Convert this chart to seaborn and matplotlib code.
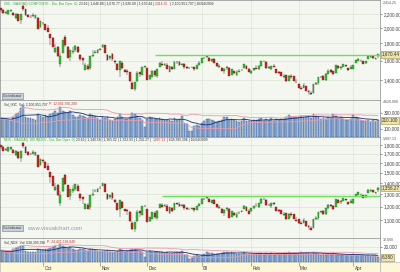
import numpy as np
import pandas as pd
import matplotlib
matplotlib.use("Agg")
import matplotlib.pyplot as plt
import matplotlib.patches as mpatches
from matplotlib.ticker import FixedLocator, NullLocator, FuncFormatter
import seaborn as sns

sns.set_style("white")
plt.rcParams['font.family'] = ['Liberation Sans', 'DejaVu Sans']

# ---------------- data ----------------
month_labels = ["Oct", "Nov", "Dec", "09", "Feb", "Mar", "Apr"]
month_start = [17, 40, 59, 81, 101, 120, 142]

ixic_open = [2290,2266,2220,2205,2240,2215,2140,2195,2110,2330,2270,2185,2160,2165,2140,2140,2010,
    2075,2050,2000,1920,1870,1700,1760,1560,1690,1880,1760,1640,1700,1720,1755,1665,1625,1500,1540,1525,1645,1690,1685,
    1725,1750,1775,1665,1625,1670,1600,1565,1500,1575,1500,1490,1475,1375,1320,1390,1480,1450,1530,
    1520,1410,1430,1485,1440,1535,1565,1555,1555,1480,1535,1515,1580,1580,1555,1565,1535,1520,1528,1530,1515,1550,
    1578,1625,1635,1630,1590,1620,1570,1535,1525,1485,1520,1525,1450,1485,1445,1480,1495,1525,1545,1505,
    1465,1495,1520,1505,1545,1590,1580,1525,1515,1545,1505,1475,1475,1425,1445,1395,1435,1435,1385,
    1360,1330,1330,1340,1300,1285,1285,1360,1370,1425,1435,1405,1460,1495,1485,1470,1545,1525,1535,1550,1520,1515,
    1515,1575,1600,1605,1590,1570,1620,1640,1645,1615,1647]
ixic_high = [2295,2280,2245,2260,2265,2230,2215,2200,2205,2335,2275,2205,2180,2215,2190,2150,2095,
    2085,2060,2040,1925,1875,1790,1770,1690,1845,1900,1765,1720,1760,1775,1770,1670,1630,1570,1565,1650,1715,1720,1730,
    1745,1790,1780,1670,1650,1680,1605,1570,1597,1590,1510,1505,1480,1390,1385,1490,1480,1535,1540,
    1520,1450,1495,1500,1510,1580,1590,1575,1570,1545,1540,1590,1590,1595,1575,1570,1545,1528,1532,1532,1551,1590,
    1633,1640,1665,1635,1618,1625,1575,1560,1530,1520,1545,1530,1508,1490,1495,1505,1510,1560,1550,1520,
    1500,1520,1550,1550,1595,1600,1590,1540,1545,1560,1510,1485,1480,1455,1450,1445,1455,1440,1410,
    1365,1345,1375,1340,1310,1300,1360,1385,1427,1435,1450,1465,1505,1505,1490,1556,1550,1545,1565,1555,1525,1555,
    1555,1605,1625,1610,1592,1595,1655,1660,1650,1630,1677]
ixic_low = [2235,2208,2200,2190,2225,2177,2130,2097,2050,2250,2178,2150,2145,2160,2130,1980,2000,
    2040,1975,1945,1785,1750,1690,1640,1535,1680,1760,1625,1595,1675,1700,1690,1590,1550,1500,1500,1495,1640,1680,1680,
    1715,1745,1680,1600,1610,1600,1560,1499,1429,1515,1480,1450,1385,1314,1295,1385,1430,1445,1520,
    1397,1400,1425,1430,1420,1530,1545,1545,1505,1475,1495,1510,1565,1545,1550,1515,1515,1515,1520,1493,1510,1550,
    1570,1615,1630,1595,1585,1570,1530,1520,1485,1460,1500,1438,1445,1455,1440,1475,1490,1520,1505,1475,
    1460,1485,1512,1500,1540,1580,1515,1515,1495,1530,1468,1455,1440,1420,1385,1390,1410,1390,1375,
    1322,1315,1325,1295,1265,1265,1285,1350,1355,1415,1400,1395,1455,1470,1450,1470,1515,1500,1530,1535,1490,1510,
    1505,1570,1595,1585,1560,1565,1615,1630,1620,1605,1626]
ixic_close = [2269,2209,2228,2258,2261,2179,2207,2098,2199,2273,2179,2153,2155,2186,2183,1983,2092,
    2069,1976,1947,1862,1754,1740,1645,1649,1844,1779,1628,1717,1711,1771,1696,1615,1604,1552,1505,1649,1657,1699,1721,
    1727,1780,1682,1608,1647,1616,1580,1499,1596,1517,1483,1483,1386,1316,1384,1472,1464,1532,1536,
    1398,1449,1492,1445,1509,1572,1548,1565,1507,1540,1508,1589,1579,1552,1564,1532,1521,1525,1530,1510,1550,1577,
    1632,1628,1652,1599,1617,1571,1539,1546,1489,1512,1530,1440,1507,1466,1477,1489,1504,1558,1507,1476,
    1494,1516,1515,1546,1591,1591,1524,1530,1541,1534,1470,1467,1442,1441,1387,1441,1425,1391,1377,
    1323,1321,1353,1300,1293,1268,1358,1371,1426,1431,1404,1463,1491,1483,1457,1555,1517,1528,1562,1545,1502,1528,
    1551,1602,1622,1606,1562,1590,1652,1653,1626,1626,1670.44]
ixic_volume = [235,225,230,215,205,255,290,300,360,390,250,235,240,225,215,290,265,
    250,280,260,290,300,320,300,380,330,310,300,320,280,245,250,270,260,250,235,290,275,260,240,
    215,245,240,250,215,205,225,245,290,245,225,230,255,295,285,265,240,215,120,
    230,245,235,225,230,235,220,210,215,210,205,240,215,220,260,175,160,70,80,140,150,140,
    170,200,230,220,215,200,190,200,215,245,255,210,230,215,195,190,200,240,205,200,
    195,210,215,225,235,195,230,210,235,200,225,215,220,230,245,270,250,255,245,
    250,265,255,250,260,235,285,260,245,225,240,230,250,240,285,265,240,245,230,215,215,230,
    270,250,235,210,205,200,215,190,210,205,210.1]

ndx_open = [1798,1779,1743,1731,1758,1739,1680,1723,1656,1829,1782,1715,1696,1700,1680,1680,1578,
    1629,1609,1570,1507,1468,1335,1382,1225,1327,1476,1382,1287,1334,1350,1378,1307,1276,1178,1209,1197,1291,1327,1323,
    1354,1374,1393,1307,1276,1311,1256,1229,1178,1236,1178,1170,1158,1079,1036,1091,1162,1138,1201,
    1178,1093,1108,1151,1116,1190,1213,1205,1205,1147,1190,1174,1226,1224,1205,1213,1190,1178,1184,1186,1174,1201,
    1223,1259,1267,1263,1232,1255,1217,1190,1182,1151,1178,1182,1124,1151,1120,1147,1159,1182,1197,1166,
    1165,1188,1208,1196,1228,1264,1256,1212,1204,1228,1196,1173,1173,1133,1149,1109,1141,1141,1101,
    1104,1080,1080,1088,1056,1043,1043,1104,1112,1157,1165,1141,1186,1214,1206,1194,1254,1238,1246,1259,1234,1230,
    1230,1279,1299,1303,1291,1275,1315,1332,1336,1311,1337]
ndx_high = [1802,1790,1762,1774,1778,1750,1739,1727,1731,1833,1786,1731,1711,1739,1719,1688,1645,
    1637,1617,1601,1511,1472,1405,1389,1327,1448,1491,1385,1350,1382,1393,1389,1311,1280,1232,1229,1295,1346,1350,1358,
    1370,1405,1397,1311,1295,1319,1260,1232,1254,1248,1185,1181,1162,1091,1087,1170,1162,1205,1209,
    1178,1124,1159,1162,1170,1224,1232,1221,1217,1197,1193,1232,1232,1236,1221,1217,1197,1184,1187,1187,1202,1232,
    1266,1271,1290,1267,1254,1259,1221,1209,1186,1178,1197,1186,1169,1155,1159,1166,1170,1209,1201,1178,
    1192,1208,1232,1232,1268,1272,1264,1224,1228,1240,1200,1181,1177,1157,1153,1149,1157,1145,1121,
    1108,1092,1116,1088,1064,1056,1104,1125,1159,1165,1177,1190,1222,1222,1210,1264,1259,1255,1271,1263,1238,1263,
    1263,1303,1320,1307,1293,1295,1344,1348,1340,1324,1362]
ndx_low = [1754,1733,1727,1719,1747,1709,1672,1646,1609,1766,1710,1688,1684,1696,1672,1554,1570,
    1601,1550,1527,1401,1374,1327,1287,1205,1319,1382,1276,1252,1315,1334,1327,1248,1217,1178,1178,1174,1287,1319,1319,
    1346,1370,1319,1256,1264,1256,1225,1177,1122,1189,1162,1138,1087,1031,1017,1087,1122,1134,1193,
    1082,1085,1104,1108,1100,1186,1197,1197,1166,1143,1159,1170,1213,1197,1201,1174,1174,1174,1178,1157,1170,1201,
    1217,1252,1263,1236,1228,1217,1186,1178,1151,1131,1162,1114,1120,1128,1116,1143,1155,1178,1166,1143,
    1161,1181,1202,1192,1224,1256,1204,1204,1188,1216,1167,1157,1145,1129,1101,1105,1121,1105,1093,
    1073,1068,1076,1052,1027,1027,1043,1096,1100,1149,1137,1133,1181,1194,1177,1194,1230,1218,1242,1246,1210,1226,
    1222,1275,1295,1287,1267,1271,1311,1324,1315,1303,1320]
ndx_close = [1781,1734,1749,1772,1775,1711,1732,1647,1726,1784,1711,1690,1692,1716,1714,1557,1642,
    1624,1551,1528,1462,1377,1366,1291,1294,1447,1396,1278,1348,1343,1390,1331,1268,1259,1218,1181,1294,1301,1334,1351,
    1356,1397,1320,1262,1293,1269,1240,1177,1253,1191,1164,1164,1088,1033,1086,1156,1149,1203,1206,
    1083,1123,1156,1120,1169,1218,1200,1213,1168,1193,1169,1231,1224,1203,1212,1187,1179,1182,1186,1170,1201,1222,
    1265,1262,1280,1239,1253,1218,1193,1198,1154,1172,1186,1116,1168,1136,1145,1154,1166,1207,1168,1144,
    1188,1205,1204,1229,1265,1265,1212,1216,1225,1220,1169,1166,1146,1146,1103,1146,1133,1106,1095,
    1074,1073,1099,1056,1050,1030,1103,1113,1158,1162,1140,1188,1211,1204,1183,1263,1232,1241,1268,1255,1220,1241,
    1259,1301,1317,1304,1268,1291,1341,1342,1320,1320,1356.27]
ndx_volume = [15,14,14,13,13,17,19,20,22,21,15,14,14,13,13,18,16,
    16,18,17,19,20,21,19,24,21,20,19,20,18,16,16,17,17,16,15,18,17,16,15,
    14,15,15,16,14,13,14,15,18,16,14,15,16,18,18,16,15,13,7,
    14,15,14,13,14,14,13,12,13,12,12,14,13,13,15,10,9,4,5,8,9,8,
    10,11,13,12,12,11,11,11,12,13,14,12,13,12,11,11,11,13,11,11,
    11,11,12,12,12,10,12,11,12,10,11,11,11,12,12,13,12,12,12,
    12,13,12,12,12,11,13,12,11,10,11,10,11,10,12,11,10,10,9,9,9,10,
    11,10,10,9,9,8,9,8,9,9,6.38]

ixic_resistance = 1665
ndx_resistance = 1287
ixic_ticks = [1400, 1600, 1800, 2000, 2200]
ndx_ticks = [1100, 1200, 1300, 1400, 1500, 1600, 1700, 1800]
vol1_ticks = [100, 300]
vol2_ticks = [20]

# ---------------- styling ----------------
BG = '#f3f7ef'
GRID = '#dbe4d6'
UP = '#2ec42e'
UP_E = '#1d6b1d'
DN = '#d42222'
DN_E = '#6a1010'
LBL = 3.3

fig = plt.figure(figsize=(4, 2.72), dpi=100, facecolor='white')
renderer = fig.canvas.get_renderer()

def px_axes(y0, y1, x0=0, x1=380):
    return fig.add_axes([x0 / 400, 1 - y1 / 272, (x1 - x0) / 400, (y1 - y0) / 272])

ax1 = px_axes(0, 100)
ax2 = px_axes(100, 137)
ax3 = px_axes(137, 238)
ax4 = px_axes(238, 262)
ax5 = px_axes(262, 272)

XL = (-0.3, 152.8)

def make_df(o, h, l, c):
    n = min(len(o), len(h), len(l), len(c))
    return pd.DataFrame({'i': np.arange(n), 'o': o[:n], 'h': h[:n], 'l': l[:n], 'c': c[:n]})

def style_axis(ax):
    ax.set_facecolor(BG)
    for s in ax.spines.values():
        s.set_color('#8a8a8a')
        s.set_linewidth(0.5)
    ax.set_xlim(*XL)
    ax.set_xticks(month_start)
    ax.tick_params(axis='x', length=0, labelbottom=False)
    ax.yaxis.tick_right()
    ax.tick_params(axis='y', labelsize=LBL, length=1.5, width=0.4, pad=1, colors='#444444')
    ax.grid(True, color=GRID, lw=0.5)
    ax.set_axisbelow(True)

def draw_candles(ax, df):
    up = df['c'] >= df['o']
    ax.vlines(df['i'], df['l'], df['h'], colors='#3a3a3a', linewidth=0.35, zorder=2)
    body_lo = df[['o', 'c']].min(axis=1)
    body_h = (df['c'] - df['o']).abs()
    ax.bar(df['i'], body_h, bottom=body_lo, width=0.75,
           color=np.where(up, UP, DN), edgecolor=np.where(up, UP_E, DN_E),
           linewidth=0.25, zorder=3)

def value_box(ax, val, txt):
    ax.text(1.004, val, txt, transform=ax.get_yaxis_transform(), fontsize=LBL,
            va='center', ha='left', color='#333333', zorder=6, clip_on=False,
            bbox=dict(boxstyle='square,pad=0.2', fc='#ece4a8', ec='#9a8a40', lw=0.4))

def price_panel(ax, df, ticks, ylim, res, res_start):
    style_axis(ax)
    ax.set_yscale('log')
    ax.set_ylim(*ylim)
    ax.yaxis.set_major_locator(FixedLocator(ticks))
    ax.yaxis.set_minor_locator(NullLocator())
    ax.yaxis.set_major_formatter(FuncFormatter(lambda v, p: f"{v:,.2f}"))
    draw_candles(ax, df)
    ax.hlines(res, res_start, XL[1], color='#6ee05a', lw=1.0, zorder=4)
    last = df['c'].iloc[-1]
    value_box(ax, last, f"{last:,.2f}")

def volume_panel(ax, vol, ticks, ylim):
    style_axis(ax)
    s = pd.Series(vol, dtype=float)
    idx = np.arange(len(s))
    ax.set_ylim(*ylim)
    ax.yaxis.set_major_locator(FixedLocator(ticks))
    ax.yaxis.set_major_formatter(FuncFormatter(lambda v, p: f"{v:.3f}"))
    ax.bar(idx, s, width=0.72, color='#90b2e0', edgecolor='#3b5483', linewidth=0.3, zorder=2)
    ma = s.rolling(10, min_periods=1).mean()
    m20 = s.rolling(20, min_periods=1).mean()
    sd20 = s.rolling(20, min_periods=2).std().bfill()
    d = pd.DataFrame({'i': idx, 'ma': ma, 'up': m20 + 1.6 * sd20, 'dn': m20 - 1.6 * sd20})
    sns.lineplot(data=d, x='i', y='up', ax=ax, color='#ee9aac', lw=0.6, zorder=3)
    sns.lineplot(data=d, x='i', y='dn', ax=ax, color='#ee9aac', lw=0.6, zorder=3)
    sns.lineplot(data=d, x='i', y='ma', ax=ax, color='#1f2b78', lw=0.6, zorder=4)
    ax.set_xlabel('')
    ax.set_ylabel('')
    ax.set_xlim(*XL)
    last = s.iloc[-1]
    value_box(ax, last, f"{last:.3f}")

df1 = make_df(ixic_open, ixic_high, ixic_low, ixic_close)
df2 = make_df(ndx_open, ndx_high, ndx_low, ndx_close)

price_panel(ax1, df1, ixic_ticks, (1221, 2422), ixic_resistance, 62)
volume_panel(ax2, ixic_volume, vol1_ticks, (0, 462))
price_panel(ax3, df2, ndx_ticks, (976, 1897), ndx_resistance, 65)
volume_panel(ax4, ndx_volume, vol2_ticks, (0, 32))

# date strip
ax5.set_facecolor('#fcf7d6')
ax5.set_xlim(*XL)
ax5.set_ylim(0, 1)
ax5.set_yticks([])
ax5.set_xticks(month_start)
ax5.set_xticklabels([])
ax5.tick_params(axis='x', length=0)
for s in ax5.spines.values():
    s.set_color('#a8a8a8')
    s.set_linewidth(0.4)
for m, lab in zip(month_start, month_labels):
    ax5.vlines(m, 0.65, 1.0, color='#666666', lw=0.4)
    ax5.text(m + 0.6, 0.35, lab, fontsize=LBL, color='#333333', ha='left', va='center')
fig.patches.append(mpatches.Rectangle((380 / 400, 0), 20 / 400, 10 / 272, transform=fig.transFigure,
                                      fc='#fcf7d6', ec='#a8a8a8', lw=0.4))

# headers: pieces placed one after another
def chain(x, y, parts, size=2.45, gap=1.5):
    cur = x
    for s, col in parts:
        t = fig.text(cur / 400, 1 - y / 272, s, fontsize=size, color=col, va='center', ha='left')
        bb = t.get_window_extent(renderer=renderer)
        cur = bb.x1 + gap

G, K, R = '#3aa83a', '#333333', '#cc3333'
chain(4, 4, [("IXIC - NASDAQ COMPOSITE - Dia, Bar Oper. 0)", G),
             ("23:16 | 1,646.88 | 1,676.77 | 1,626.09 | 1,670.44 |", K),
             ("2,414.25", R), ("| 2,100,951,707 | 16/04/2009", K)])
chain(4, 104, [("Vol_IXIC  Vol: 2,100,951,707", K), ("P: 12,801,566,289", R)])
chain(4, 140, [("NDX - NASDAQ 100 INDEX - Dia, Bar Oper. 0)", G),
               ("23:16 | 1,340.58 | 1,365.02 | 1,322.93 | 1,356.27 |", K),
               ("1,897.13", R), ("| 638,395,586 | 16/04/2009", K)])
chain(4, 242, [("Vol_NDX  Vol: 638,395,586", K), ("P: 24,421,538,840", R)])

# buttons and watermark
for yb in (96, 228):
    fig.text(3 / 400, 1 - yb / 272, "Go Indicator", fontsize=2.4, color='#333333', va='center', ha='left',
             bbox=dict(boxstyle='square,pad=0.35', fc='#c9d2dc', ec='#6f7b88', lw=0.4))
fig.text(27 / 400, 1 - 228 / 272, "www.visualchart.com", fontsize=4.2, color='#8c9ab4', va='center', ha='left')

# small top-right value labels
for yb, s in ((3, "2,414.25"), (102, "4.620.000"), (139, "1,897.13"), (240, "32.000")):
    fig.text(383 / 400, 1 - yb / 272, s, fontsize=2.6, color='#555555', va='center', ha='left')

fig.savefig("out.png", dpi=100, facecolor='white')
